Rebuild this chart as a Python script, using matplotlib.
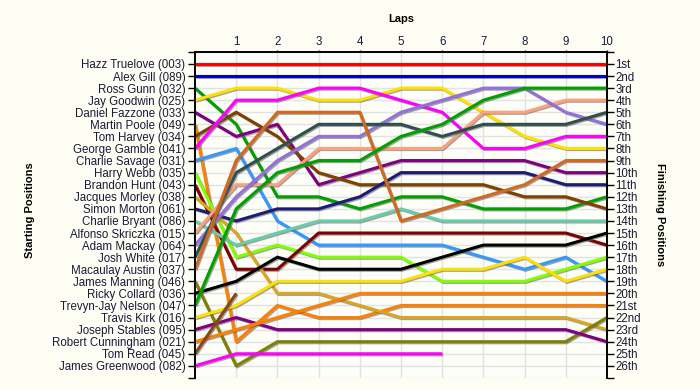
import numpy as np
import matplotlib.pyplot as plt
import matplotlib.patheffects as pe

plt.rcParams['font.family'] = ['Liberation Sans', 'DejaVu Sans']

laps = [0, 1, 2, 3, 4, 5, 6, 7, 8, 9, 10]

# starting grid, top to bottom
drivers = ['Hazz Truelove (003)', 'Alex Gill (089)', 'Ross Gunn (032)', 'Jay Goodwin (025)',
           'Daniel Fazzone (033)', 'Martin Poole (049)', 'Tom Harvey (034)', 'George Gamble (041)',
           'Charlie Savage (031)', 'Harry Webb (035)', 'Brandon Hunt (043)', 'Jacques Morley (038)',
           'Simon Morton (061)', 'Charlie Bryant (086)', 'Alfonso Skriczka (015)', 'Adam Mackay (064)',
           'Josh White (017)', 'Macaulay Austin (037)', 'James Manning (046)', 'Ricky Collard (036)',
           'Trevyn-Jay Nelson (047)', 'Travis Kirk (016)', 'Joseph Stables (095)',
           'Robert Cunningham (021)', 'Tom Read (045)', 'James Greenwood (082)']

colors = ['#ff0000', '#0000cc', '#00a000', '#ffe000', '#800080', '#ff8000', '#804000', '#ff00ff',
          '#3399ff', '#80ff00', '#800000', '#daa520', '#1c1c78', '#66ccaa', '#ffa07a', '#9370db',
          '#2f4f4f', '#d2691e', '#808000', '#000000', '#00a000', '#ffe000', '#800080', '#ff8000',
          '#8b4513', '#ff00ff']

N = np.nan
# position at the end of each lap (lap 0 = grid)
positions = [
    [1, 1, 1, 1, 1, 1, 1, 1, 1, 1, 1],
    [2, 2, 2, 2, 2, 2, 2, 2, 2, 2, 2],
    [3, 6, 12, 12, 13, 12, 12, 13, 13, 13, 12],
    [4, 3, 3, 4, 4, 3, 3, 5, 7, 8, 8],
    [5, 7, 6, 11, 10, 9, 9, 9, 9, 10, 10],
    [6, 24, 21, 22, 22, 21, 21, 21, 21, 21, 21],
    [7, 5, 7, 10, 11, 11, 11, 11, 12, 12, 13],
    [8, 4, 4, 3, 3, 4, 5, 8, 8, 7, 7],
    [9, 8, 14, 16, 16, 16, 16, 17, 18, 17, 19],
    [10, 17, 16, 17, 17, 17, 19, 19, 19, 18, 17],
    [11, 18, 18, 15, 15, 15, 15, 15, 15, 15, 16],
    [12, 15, 20, 20, 21, 22, 22, 22, 22, 22, 23],
    [13, 14, 13, 13, 12, 10, 10, 10, 10, 11, 11],
    [14, 16, 15, 14, 14, 13, 14, 14, 14, 14, 14],
    [15, 11, 11, 8, 8, 8, 8, 5, 5, 4, 4],
    [16, 12, 9, 7, 7, 5, 4, 3, 3, 5, 6],
    [17, 10, 8, 6, 6, 6, 7, 6, 6, 6, 5],
    [18, 9, 5, 5, 5, 14, 13, 12, 11, 9, 9],
    [19, 26, 24, 24, 24, 24, 24, 24, 24, 24, 22],
    [20, 19, 17, 18, 18, 18, 17, 16, 16, 16, 15],
    [21, 13, 10, 9, 9, 7, 6, 4, 3, 3, 3],
    [22, 21, 19, 19, 19, 19, 18, 18, 17, 19, 18],
    [23, 22, 23, 23, 23, 23, 23, 23, 23, 23, 24],
    [24, 23, 22, 21, 20, 20, 20, 20, 20, 20, 20],
    [25, 20, N, N, N, N, N, N, N, N, N],
    [26, 25, 25, 25, 25, 25, 25, N, N, N, N],
]

finish_labels = ['1st', '2nd', '3rd', '4th', '5th', '6th', '7th', '8th', '9th', '10th', '11th',
                 '12th', '13th', '14th', '15th', '16th', '17th', '18th', '19th', '20th', '21st',
                 '22nd', '23rd', '24th', '25th', '26th']

bg = '#fdfdf3'
txt = '#1a1a3a'
fig = plt.figure(figsize=(7, 3.9), dpi=100, facecolor=bg)
ax = fig.add_axes([0.2786, 0.031, 0.5885, 0.836])
ax.set_facecolor('#fefef8')

for i in range(len(drivers)):
    ax.plot(laps, positions[i], color=colors[i], lw=2.2, solid_capstyle='butt', zorder=3,
            path_effects=[pe.SimpleLineShadow(offset=(0.8, -0.8), shadow_color='#666666', alpha=0.6),
                          pe.Normal()])

ax.set_xlim(0, 10)
ax.set_ylim(27, 0)

ax.set_yticks(range(1, 27))
ax.set_yticklabels(drivers)
ax.set_yticks([0, 27], minor=True)
ax.tick_params(axis='y', which='both', direction='out', length=5, width=1, color='black',
               labelsize=8.3, labelcolor=txt, pad=2)

ax.xaxis.tick_top()
ax.set_xticks(range(1, 11))
ax.tick_params(axis='x', direction='out', length=1.5, width=1, labelsize=8.3, labelcolor=txt, pad=1)

ax2 = ax.twinx()
ax2.set_ylim(27, 0)
ax2.set_yticks(range(1, 27))
ax2.set_yticklabels(finish_labels)
ax2.set_yticks([0, 27], minor=True)
ax2.tick_params(axis='y', which='both', direction='out', length=5, width=1, color='black',
                labelsize=8.3, labelcolor=txt, pad=1)

for y in range(0, 28):
    ax.axhline(y, color='#e2e2e2', lw=1, zorder=1)
for x in range(1, 10):
    ax.axvline(x, color='#e2e2e2', lw=1, zorder=1)

for a in (ax, ax2):
    a.spines['bottom'].set_visible(False)
    for s in ('top', 'left', 'right'):
        a.spines[s].set_linewidth(1.2)

fig.text(0.573, 0.951, 'Laps', ha='center', va='center', fontsize=8, fontweight='bold', color='black')
fig.text(0.043, 0.46, 'Starting Positions', ha='center', va='center', rotation=90,
         fontsize=8, fontweight='bold', color='black')
fig.text(0.943, 0.45, 'Finishing Positions', ha='center', va='center', rotation=270,
         fontsize=8, fontweight='bold', color='black')

fig.savefig('out.png', dpi=100, facecolor=bg)
